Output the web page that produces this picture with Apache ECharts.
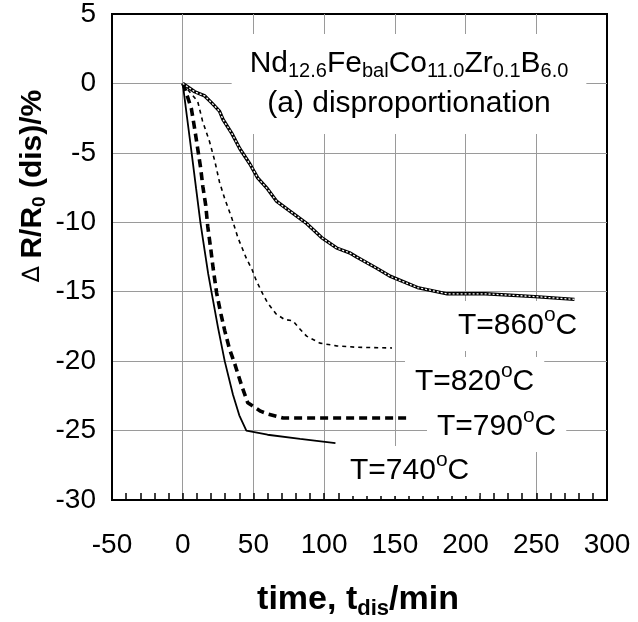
<!DOCTYPE html>
<html>
<head>
<meta charset="utf-8">
<script src="https://cdn.jsdelivr.net/npm/echarts@6/dist/echarts.min.js"></script>
<style>
  html, body { margin: 0; padding: 0; background: #fff; }
  #chart { width: 638px; height: 622px; }
</style>
</head>
<body>
<div id="chart"></div>
<script>
// Resistance change during disproportionation, [time (min), ΔR/R0 (%)]
const curve740 = [[0,0],[3,-2.4],[6.3,-5],[9.5,-7.6],[12.5,-10],[15.6,-12.1],[18,-13.7],[20.5,-15.1],[25,-17.6],[29.7,-20],[35.5,-22.4],[40,-23.9],[45,-25],[60,-25.3],[83,-25.6],[108,-25.9]];
const curve790 = [[0,0],[1.4,-0.34],[6.1,-1.8],[8.5,-3.3],[10.6,-4.7],[12.7,-6.1],[14.2,-7.4],[16.3,-8.8],[17.7,-10.3],[19.8,-11.9],[21.5,-13.3],[24,-15.1],[27,-16.6],[29.7,-17.8],[33,-19.1],[36.8,-20.2],[41.8,-21.8],[46,-23],[49,-23.2],[55,-23.6],[60,-23.8],[71,-24.1],[100,-24.1],[130,-24.1],[159,-24.1]];
const curve820 = [[0,0],[10.6,-1.3],[14,-2.7],[19,-4.2],[22.7,-5.6],[26,-7.1],[29.7,-8.3],[34.7,-9.7],[39,-11.1],[45,-12.6],[49,-13.4],[52,-14.2],[56.8,-15.2],[60,-15.8],[66,-16.6],[72,-17],[78,-17.1],[83,-17.7],[87.6,-18.2],[97,-18.7],[108.8,-18.9],[123,-19],[148,-19.05]];
const curve860 = [[0,0],[1.4,-0.1],[8.5,-0.6],[15.6,-0.9],[20.5,-1.4],[26,-2],[28.5,-2.6],[34.7,-3.6],[40.4,-4.7],[47.5,-5.8],[53,-6.8],[60,-7.6],[66.5,-8.5],[75.8,-9.2],[87.8,-10.1],[98.2,-11.1],[108.8,-11.85],[118,-12.2],[123,-12.5],[137,-13.3],[147,-13.9],[166,-14.7],[187,-15.15],[214,-15.15],[249,-15.35],[277,-15.55]];

const xTicks = { min: -50, max: 300, step: 50 };
const yTicks = { min: -30, max: 5, step: 5 };

const FONT = '"Liberation Sans", Arial, Helvetica, sans-serif';

// rich-text pieces shared by the annotations
const richMain = { fontFamily: FONT, fontSize: 30, lineHeight: 30, color: '#000' };
const richSup = { fontFamily: FONT, fontSize: 21, lineHeight: 21, color: '#000', padding: [0, 0, 21, 0] };

function tempLabel(temp, x, y) {
  return {
    type: 'text', x: x, y: y, z: 1,
    style: {
      text: '{m|T=' + temp + '}{o|o}{m|C}',
      rich: { m: richMain, o: richSup },
      textAlign: 'left', textVerticalAlign: 'middle',
      backgroundColor: '#fff', padding: [10, 10, 10, 10]
    }
  };
}

const chart = echarts.init(document.getElementById('chart'), null, { renderer: 'canvas' });

const gridLine = { show: true, showMinLine: false, showMaxLine: false, lineStyle: { color: '#9a9a9a', width: 1 } };

chart.setOption({
  animation: false,
  backgroundColor: '#fff',
  grid: { left: 112, right: 31, top: 13, bottom: 122, show: true, borderColor: '#000', borderWidth: 2, backgroundColor: 'transparent' },
  xAxis: {
    type: 'value', min: xTicks.min, max: xTicks.max, interval: xTicks.step,
    axisLine: { onZero: false, lineStyle: { color: '#000', width: 2 } },
    axisTick: { show: true, inside: true, length: 7, lineStyle: { color: '#000', width: 1.5 } },
    minorTick: { show: true, splitNumber: 5, length: 7, lineStyle: { color: '#000', width: 1.5 } },
    splitLine: gridLine,
    axisLabel: { fontFamily: FONT, fontSize: 28, color: '#000', margin: 31 }
  },
  yAxis: {
    type: 'value', min: yTicks.min, max: yTicks.max, interval: yTicks.step,
    axisLine: { onZero: false, lineStyle: { color: '#000', width: 2 } },
    axisTick: { show: false },
    splitLine: gridLine,
    axisLabel: { fontFamily: FONT, fontSize: 28, color: '#000', margin: 16 }
  },
  series: [
    { name: 'T=860', type: 'line', data: curve860, showSymbol: false, z: 3,
      lineStyle: { color: '#000', width: 3.4 } },
    { name: 'T=860 inner', type: 'line', data: curve860, showSymbol: false, z: 4,
      lineStyle: { color: '#fff', width: 1.3, type: [2, 2] } },
    { name: 'T=820', type: 'line', data: curve820, showSymbol: false, z: 3,
      lineStyle: { color: '#000', width: 1.6, type: [4, 4] } },
    { name: 'T=790', type: 'line', data: curve790, showSymbol: false, z: 3,
      lineStyle: { color: '#000', width: 3.6, type: [8, 5] } },
    { name: 'T=740', type: 'line', data: curve740, showSymbol: false, z: 3,
      lineStyle: { color: '#000', width: 1.8 } }
  ],
  graphic: [
    {
      type: 'text', x: 409, y: 84, z: 1,
      style: {
        text: '{m|Nd}{s|12.6}{m|Fe}{s|bal}{m|Co}{s|11.0}{m|Zr}{s|0.1}{m|B}{s|6.0}\n{m|(a) disproportionation}',
        rich: {
          m: { fontFamily: FONT, fontSize: 30, lineHeight: 40, color: '#000' },
          s: { fontFamily: FONT, fontSize: 20, lineHeight: 20, color: '#000', padding: [14, 0, 0, 0] }
        },
        textAlign: 'center', textVerticalAlign: 'middle',
        backgroundColor: '#fff', padding: [10, 18, 10, 18]
      }
    },
    tempLabel('860', 448, 326),
    tempLabel('820', 405, 382),
    tempLabel('790', 427, 427),
    tempLabel('740', 340, 471),
    {
      type: 'text', x: 358, y: 600, z: 1,
      style: {
        text: '{m|time, t}{s|dis}{m|/min}',
        rich: {
          m: { fontFamily: FONT, fontSize: 34, fontWeight: 'bold', lineHeight: 34, color: '#000' },
          s: { fontFamily: FONT, fontSize: 22, fontWeight: 'bold', lineHeight: 22, color: '#000', padding: [18, 0, 0, 0] }
        },
        textAlign: 'center', textVerticalAlign: 'middle'
      }
    },
    {
      type: 'text', x: 33, y: 186, z: 1, rotation: Math.PI / 2,
      style: {
        text: '{d|∆ }{m|R/R}{s|0}{m| (dis)/%}',
        rich: {
          d: { fontFamily: '"DejaVu Sans", sans-serif', fontSize: 24, fontWeight: 'normal', lineHeight: 30, color: '#000' },
          m: { fontFamily: FONT, fontSize: 30, fontWeight: 'bold', lineHeight: 30, color: '#000' },
          s: { fontFamily: FONT, fontSize: 19, fontWeight: 'bold', lineHeight: 19, color: '#000', padding: [14, 0, 0, 0] }
        },
        textAlign: 'center', textVerticalAlign: 'middle'
      }
    }
  ]
});
</script>
</body>
</html>
